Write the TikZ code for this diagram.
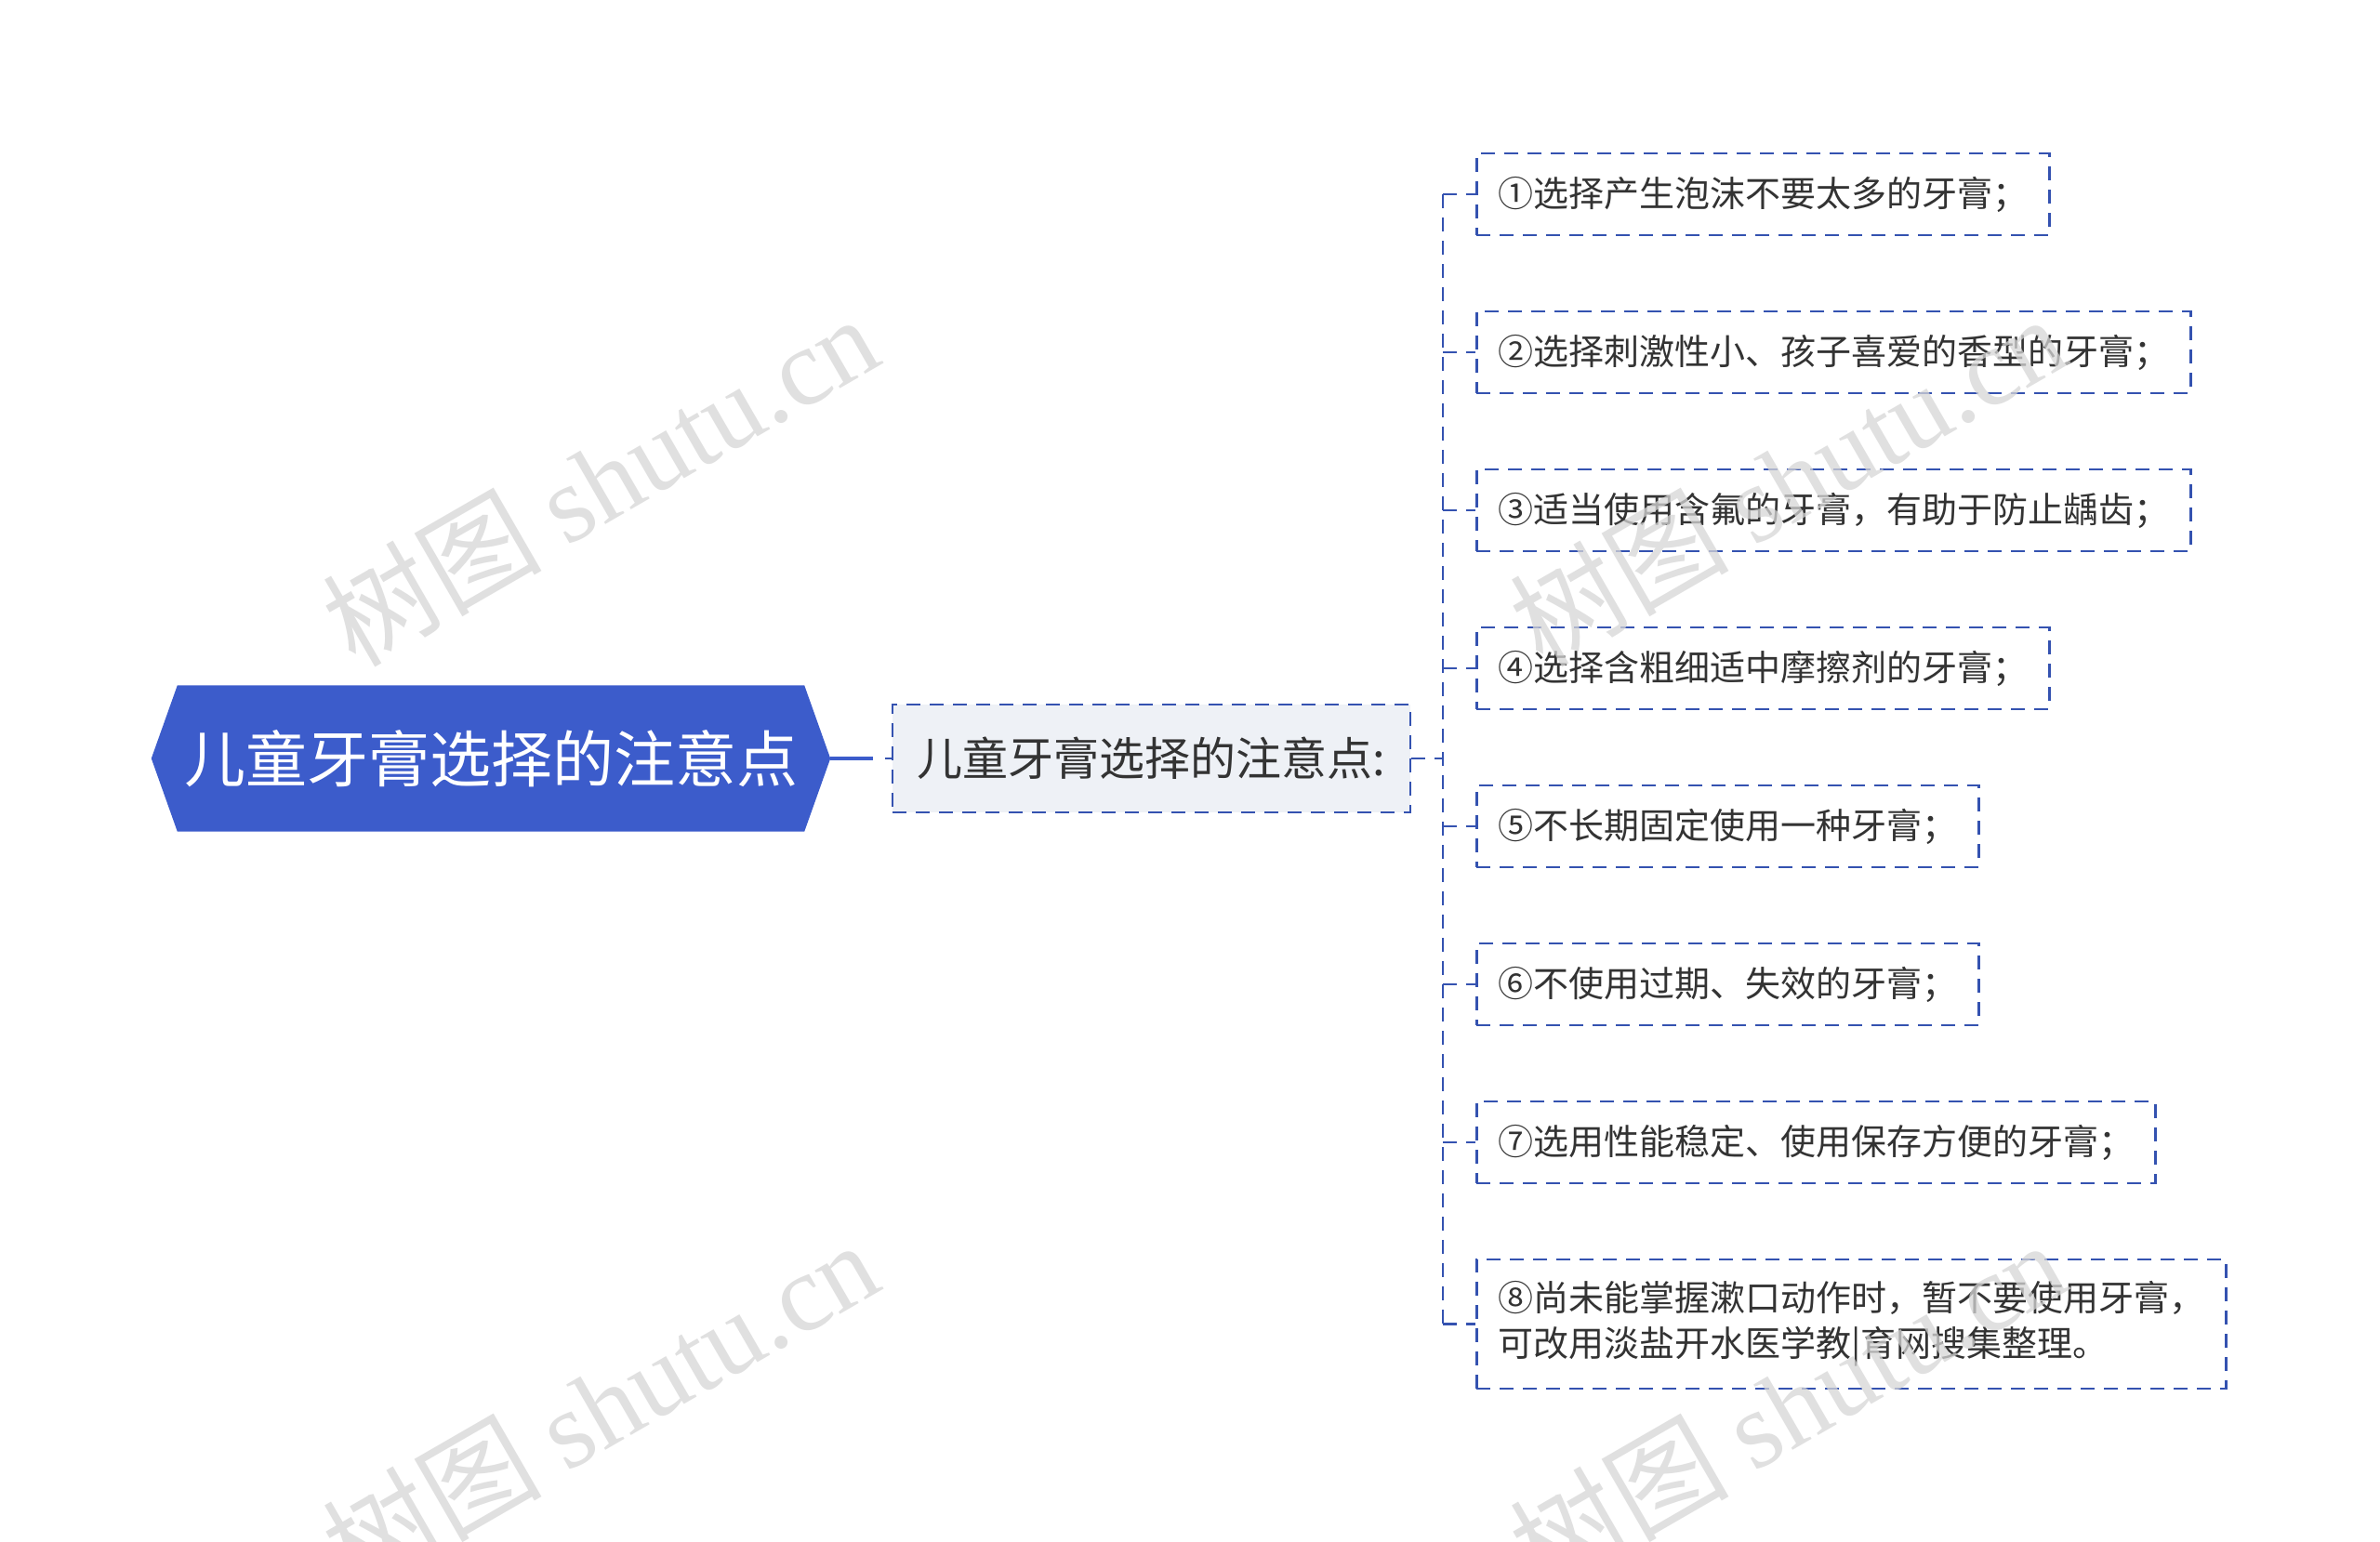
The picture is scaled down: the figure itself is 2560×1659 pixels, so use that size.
\documentclass[tikz,border=0pt]{standalone}
\usepackage{fontspec}
\setmainfont{Noto Sans CJK SC}
\newfontfamily\cjk{Noto Sans CJK SC}
\newfontfamily\wmserif{Liberation Serif}
\usetikzlibrary{backgrounds}
\definecolor{rootblue}{HTML}{3C5CCB}
\definecolor{lineblue}{HTML}{3452B0}
\definecolor{midfill}{HTML}{EEF1F6}
\definecolor{txt}{HTML}{333333}
\definecolor{wm}{HTML}{D6D6D6}
\tikzset{
  rootnode/.style={minimum width=730pt, minimum height=157pt, inner sep=0pt, text=white,
    font=\fontsize{66}{77}\selectfont},
  midnode/.style={draw=lineblue, line width=2.5pt, dash pattern=on 15pt off 10pt, fill=midfill,
    minimum width=557pt, minimum height=116pt, inner sep=0pt, text=txt,
    font=\fontsize{49}{58}\selectfont},
  leafnode/.style={draw=lineblue, line width=2.5pt, dash pattern=on 15pt off 10pt,
    anchor=west, inner xsep=23pt, inner ysep=0pt, minimum height=88pt, text=txt,
    font=\fontsize{38}{49}\selectfont, align=left},
  conn/.style={draw=lineblue, line width=2.5pt, dash pattern=on 15pt off 10pt},
  wmark/.style={text=wm, opacity=0.75, rotate=30, font=\fontsize{118}{125}\selectfont}
}
\begin{document}
\begin{tikzpicture}[x=1pt,y=-1pt]
\useasboundingbox (0,0) rectangle (2560,1659);

\node[rootnode] (root) at (528,816) {儿童牙膏选择的注意点};
\begin{scope}[on background layer]
\fill[white] (0,0) rectangle (2560,1659);
\fill[rootblue] (root.west) -- ([xshift=28pt]root.north west) -- ([xshift=-28pt]root.north east)
  -- (root.east) -- ([xshift=-28pt]root.south east) -- ([xshift=28pt]root.south west) -- cycle;
\end{scope}

\node[midnode] (mid) at (1238.5,816) {儿童牙膏选择的注意点:};

\node[leafnode] (l1) at (1587,209) {①选择产生泡沫不要太多的牙膏；};
\node[leafnode] (l2) at (1587,379) {②选择刺激性小、孩子喜爱的香型的牙膏；};
\node[leafnode] (l3) at (1587,549) {③适当使用含氟的牙膏，有助于防止龋齿；};
\node[leafnode] (l4) at (1587,719) {④选择含粗细适中摩擦剂的牙膏；};
\node[leafnode] (l5) at (1587,889) {⑤不长期固定使用一种牙膏；};
\node[leafnode] (l6) at (1587,1059) {⑥不使用过期、失效的牙膏；};
\node[leafnode] (l7) at (1587,1229) {⑦选用性能稳定、使用保存方便的牙膏；};
\node[leafnode, minimum height=139pt] (l8) at (1587,1424.5) {⑧尚未能掌握漱口动作时，暂不要使用牙膏，\\可改用淡盐开水医学教|育网搜集整理。};

% root -> mid
\coordinate (c1) at (939,816);
\coordinate (c2) at (952,816);
\draw[rootblue, line width=4.5pt] (root.east) -- (c1);
\draw[lineblue, line width=2.5pt] (c2) -- (mid.west);

% mid -> trunk -> leaves
\coordinate (tr) at (1552,816);
\draw[conn] (mid.east) -- (tr);
\draw[conn] (tr |- l1.west) -- (tr |- l8.west);
\foreach \n in {l1,l2,l3,l4,l5,l6,l7,l8}{
  \draw[conn] (tr |- \n.west) -- (\n.west);
}

% watermarks
\node[wmark] (w1) at (645,516) {{\cjk 树图} {\wmserif shutu.cn}};
\node[wmark] (w2) at (645,1512) {{\cjk 树图} {\wmserif shutu.cn}};
\node[wmark] (w3) at (1922,516) {{\cjk 树图} {\wmserif shutu.cn}};
\node[wmark] (w4) at (1922,1512) {{\cjk 树图} {\wmserif shutu.cn}};
\end{tikzpicture}
\end{document}
